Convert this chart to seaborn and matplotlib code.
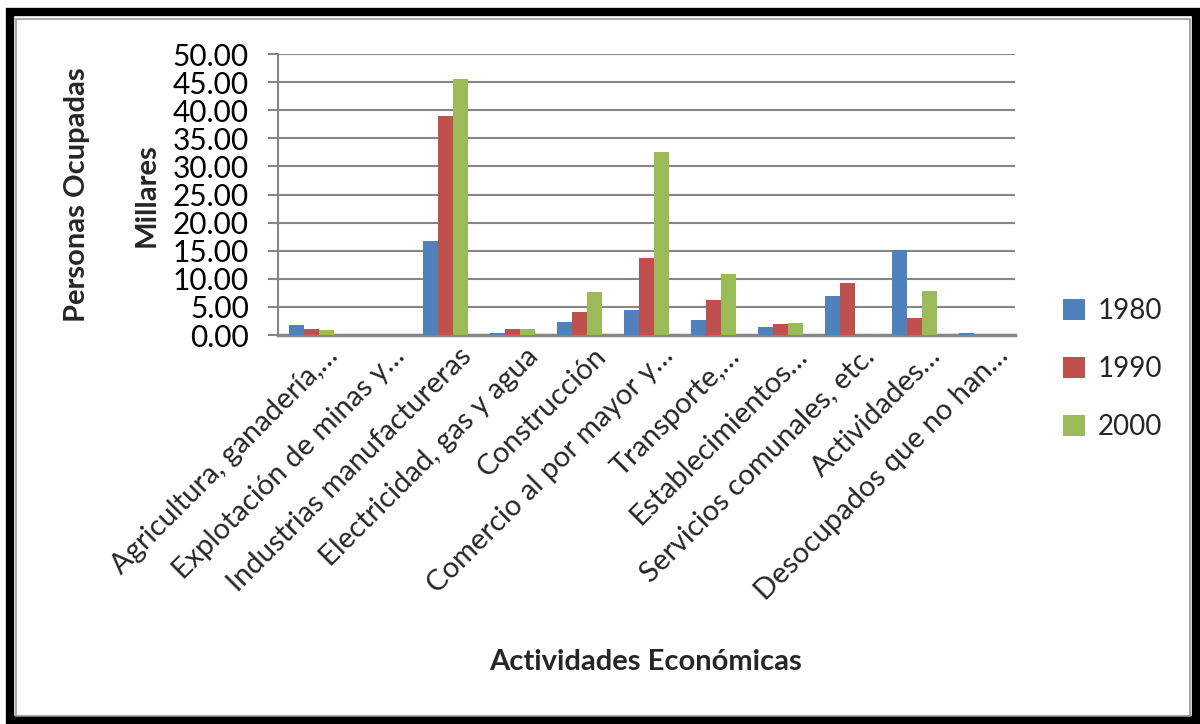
import matplotlib
matplotlib.use("Agg")
import matplotlib.pyplot as plt
import matplotlib.transforms as mtransforms
from matplotlib.patches import Rectangle
import seaborn as sns
import pandas as pd

categories = [
    "Agricultura, ganadería,…",
    "Explotación de minas y…",
    "Industrias manufactureras",
    "Electricidad, gas y agua",
    "Construcción",
    "Comercio al por mayor y…",
    "Transporte,…",
    "Establecimientos…",
    "Servicios comunales, etc.",
    "Actividades…",
    "Desocupados que no han…",
]
years = ["1980", "1990", "2000"]
v1980 = [1.8, 0.0, 16.7, 0.3, 2.4, 4.45, 2.7, 1.4, 7.0, 15.1, 0.35]
v1990 = [1.1, 0.0, 39.0, 1.0, 4.15, 13.7, 6.2, 1.9, 9.25, 3.0, 0.0]
v2000 = [0.85, 0.0, 45.5, 1.1, 7.7, 32.5, 10.9, 2.1, 0.0, 7.8, 0.0]
colors = ["#4F81BD", "#C0504D", "#9BBB59"]

rows = []
for yr, vals in zip(years, [v1980, v1990, v2000]):
    for c, v in zip(categories, vals):
        rows.append({"cat": c, "year": yr, "val": v})
df = pd.DataFrame(rows)

sns.set_theme(style="white")
plt.rcParams["font.family"] = ["Lato", "DejaVu Sans"]

W, H = 1200, 724
fig = plt.figure(figsize=(12, 7.24), dpi=100)
ax = fig.add_axes([278 / W, 1 - 335 / H, (1015 - 278) / W, (335 - 54) / H])

sns.barplot(data=df, x="cat", y="val", hue="year", hue_order=years,
            order=categories, palette=colors, width=0.67, ax=ax,
            saturation=1, linewidth=0, zorder=3, legend=True)

ax.set_ylim(0, 50)
ax.set_xlim(-0.5, len(categories) - 0.5)
ax.set_yticks([i * 5 for i in range(11)])
ax.set_yticklabels([f"{i*5:.2f}" for i in range(11)], fontsize=21.5)
ax.yaxis.grid(True, color="#868686", linewidth=1.5, zorder=0)
ax.set_axisbelow(True)
ax.tick_params(axis="y", length=7, width=1.5, color="#868686", pad=14,
               left=True, labelcolor="black")
ax.tick_params(axis="x", length=0, pad=2)
for s in ["top", "right"]:
    ax.spines[s].set_visible(False)
ax.spines["left"].set_color("#868686")
ax.spines["left"].set_linewidth(1.5)
ax.spines["bottom"].set_color("#868686")
ax.spines["bottom"].set_linewidth(2.5)
ax.set_xlabel("")
ax.set_ylabel("")

offset = mtransforms.ScaledTranslation(13 / 100, -5 / 100, fig.dpi_scale_trans)
for lab in ax.get_xticklabels():
    lab.set_rotation(45)
    lab.set_ha("right")
    lab.set_va("top")
    lab.set_rotation_mode("anchor")
    lab.set_fontsize(21)
    lab.set_transform(lab.get_transform() + offset)

leg = ax.legend(loc="center left", bbox_to_anchor=(1052 / W, 1 - 369 / H),
                bbox_transform=fig.transFigure, frameon=False, fontsize=20,
                handlelength=0.8, handleheight=0.8, handletextpad=0.45,
                labelspacing=1.15, borderaxespad=0)

fig.text(646 / W, 1 - 662 / H, "Actividades Económicas", ha="center",
         va="center", fontsize=21, fontweight="bold")
fig.text(77 / W, 1 - 195 / H, "Personas Ocupadas", ha="center", va="center",
         rotation=90, fontsize=21, fontweight="bold")
fig.text(147 / W, 1 - 195 / H, "Millares", ha="center", va="center",
         rotation=90, fontsize=21, fontweight="bold")

fig.patches.append(Rectangle((10 / W, 4 / H), 1186 / W, 708 / H,
                             transform=fig.transFigure, fill=False,
                             edgecolor="black", linewidth=6))
fig.patches.append(Rectangle((16 / W, 8 / H), 1174 / W, 697 / H,
                             transform=fig.transFigure, fill=False,
                             edgecolor="#999999", linewidth=1.2))

fig.savefig("out.png", dpi=100, facecolor="white")
